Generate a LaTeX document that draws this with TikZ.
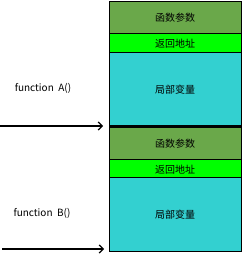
\documentclass[tikz,border=0pt]{standalone}
\usepackage{fontspec}
\setmainfont{Noto Sans CJK SC}
\usetikzlibrary{arrows.meta}
\definecolor{olivegreen}{HTML}{6AA84A}
\definecolor{brightgreen}{HTML}{00FF00}
\definecolor{cyanbox}{HTML}{33D0D0}
\begin{document}
\begin{tikzpicture}[x=1pt,y=-1pt,
  cell/.style={draw=black,line width=1.4pt,minimum width=132pt,inner sep=0pt,font=\fontsize{10}{12}\selectfont,anchor=north west},
  params/.style={cell,fill=olivegreen,minimum height=32pt},
  retaddr/.style={cell,fill=brightgreen,minimum height=19pt},
  locals/.style={cell,fill=cyanbox,minimum height=73.5pt},
  fnlabel/.style={font=\fontsize{10}{12}\selectfont},
  callarrow/.style={line width=1.2pt,-{Straight Barb[length=4pt,width=8pt]}}]
\useasboundingbox (0,0) rectangle (243,256);
% block A
\node[params] (pa) at (108.5,1) {函数参数};
\node[retaddr] (ra) at (108.5,33) {返回地址};
\node[locals] (la) at (108.5,52) {局部变量};
% block B
\node[params] (pb) at (108.5,127) {函数参数};
\node[retaddr] (rb) at (108.5,159) {返回地址};
\node[locals,minimum height=74pt] (lb) at (108.5,177) {局部变量};
% labels
\node[fnlabel] (fa) at (43,88) {function\ \ A()};
\node[fnlabel] (fb) at (42,213) {function\ \ B()};
% arrows
\coordinate (a1s) at (0,126);
\coordinate (a1e) at (103,126);
\coordinate (a2s) at (2,249);
\coordinate (a2e) at (104,249);
\draw[callarrow] (a1s) -- (a1e);
\draw[callarrow] (a2s) -- (a2e);
\end{tikzpicture}
\end{document}
